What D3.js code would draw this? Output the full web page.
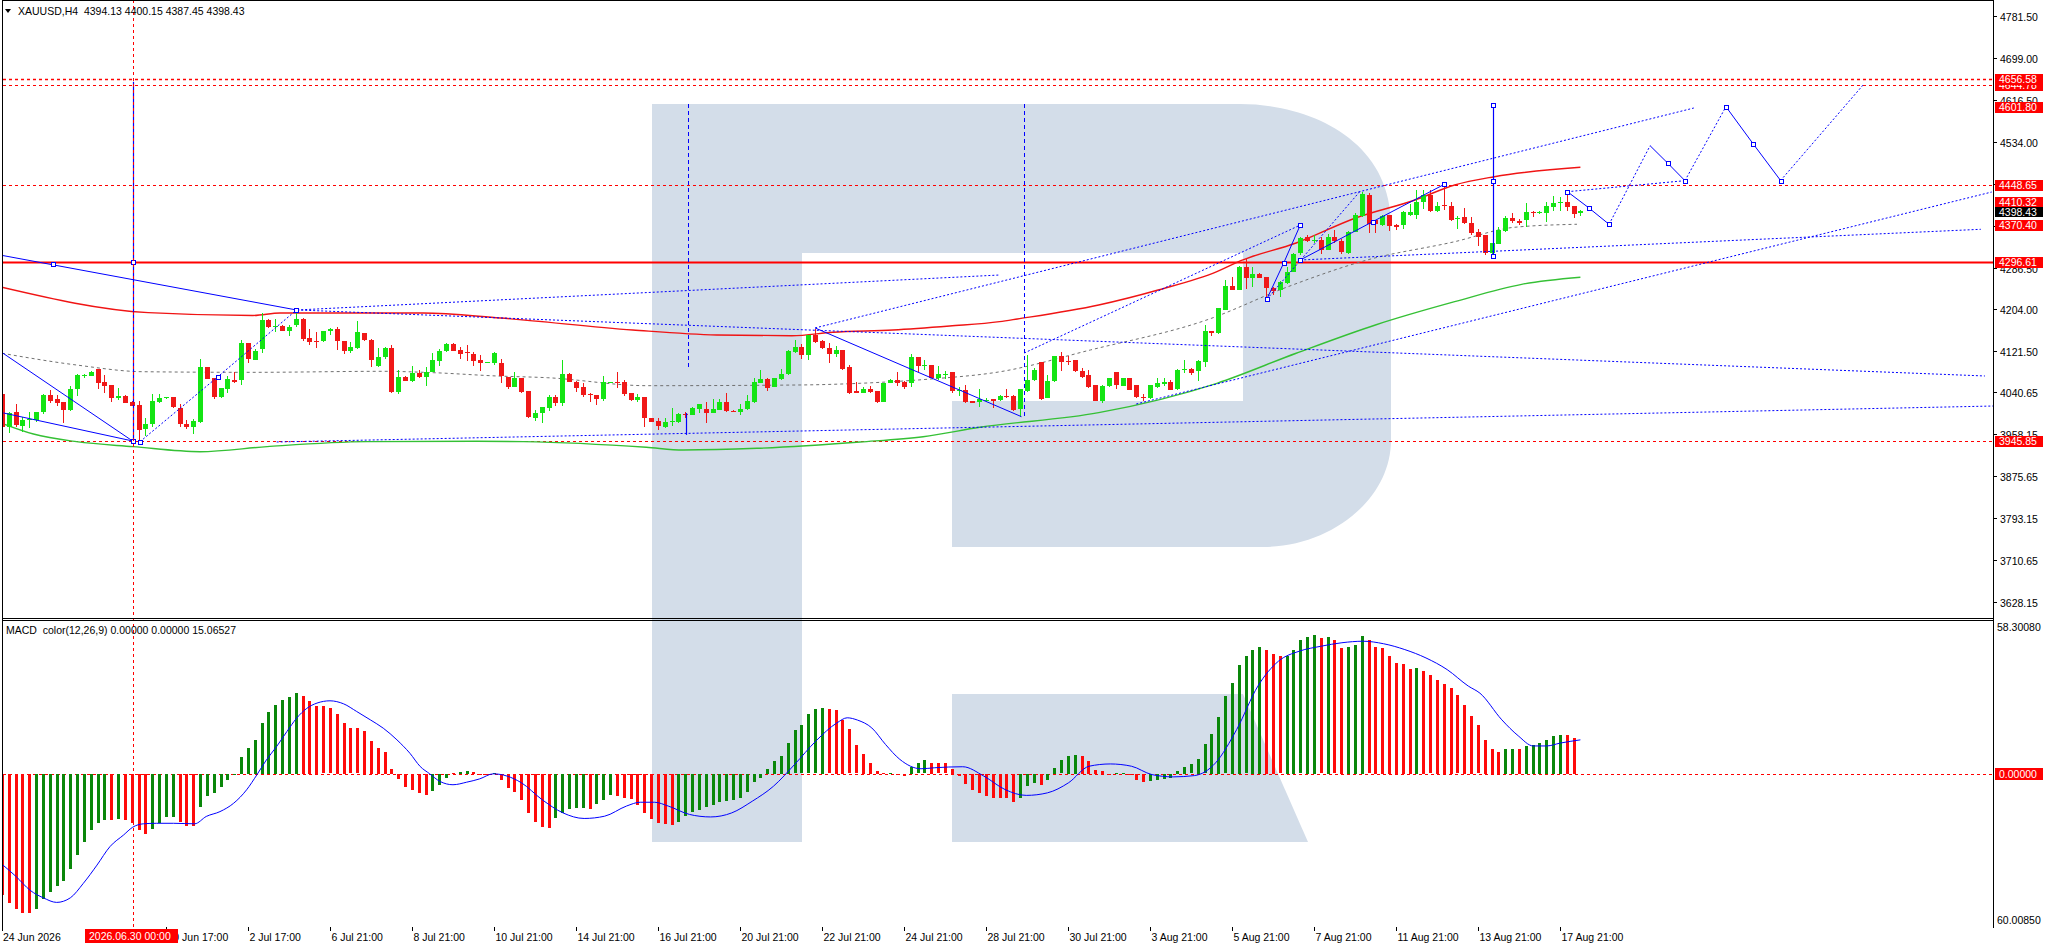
<!DOCTYPE html>
<html>
<head>
<meta charset="utf-8">
<script src="https://cdn.jsdelivr.net/npm/d3@7"></script>
<style>
html, body { margin: 0; padding: 0; background: #fff; }
svg { display: block; font-family: "Liberation Sans", Arial, sans-serif; font-size: 10.5px; }
</style>
</head>
<body>
<svg id="chart" width="2046" height="948"></svg>
<script>
var symbolHeader = "XAUUSD,H4  4394.13 4400.15 4387.45 4398.43";
var macdHeader = "MACD  color(12,26,9) 0.00000 0.00000 15.06527";

// H4 candles, one per bar: [open, high, low, close]
var ohlc = [
[4037,4040,3970,3972],[3972,4003,3960,3999.5],[4002,4018,3972,3976],[3975,3993,3963,3986],[3986,4003,3970,3988],
[3986,4003,3983,4002],[4001,4037,3999,4035],[4035,4045,4019,4024],[4027,4036,4013,4020],[4022,4022,3981,4006],
[4006,4053,4005,4047],[4046,4077,4034,4074],[4072,4076,4070,4074],[4073,4083,4072,4081],[4087,4087,4048,4060],
[4061,4074,4039,4054],[4055,4055,4022,4030],[4031,4049,4026,4034],[4034,4035,4019,4020],[4022,4023,4013,4015],
[4016,4024,3946,3967],[3968,3990,3954,3978],[3977,4037,3973,4023],[4022,4037,4020,4029],[4029,4032,4028,4031],
[4031,4032,4009,4011],[4009,4018,3973,3977],[3978,3986,3968,3973],[3973,3988,3958,3985],[3982,4106,3980,4090],
[4091,4091,4067,4068],[4069,4070,4027,4032],[4031,4049,4030,4049],[4047,4073,4040,4067],[4066,4081,4060,4062],
[4064,4144,4056,4137],[4137,4137,4099,4105],[4105,4127,4105,4123],[4125,4196,4119,4183],[4183,4185,4167,4170],
[4170,4185,4160,4171],[4171,4173,4161,4162],[4162,4173,4152,4169],[4175,4198,4169,4186],[4186,4188,4142,4146],
[4148,4165,4134,4141],[4141,4160,4128,4140],[4141,4162,4140,4161],[4161,4167,4154,4165],[4165,4169,4124,4141],
[4142,4142,4117,4123],[4123,4140,4118,4130],[4129,4181,4127,4160],[4157,4158,4142,4143],[4144,4145,4091,4104],
[4093,4129,4091,4111],[4110,4131,4107,4128],[4128,4134,4039,4041],[4041,4085,4037,4071],[4071,4072,4063,4064],
[4063,4093,4061,4078],[4078,4085,4070,4071],[4071,4091,4053,4081],[4081,4118,4081,4105],[4104,4127,4093,4123],
[4122,4138,4120,4136],[4136,4137,4122,4123],[4124,4131,4107,4117],[4121,4134,4103,4120],[4116,4121,4093,4103],
[4104,4114,4083,4099],[4099,4101,4098,4100],[4099,4121,4095,4118],[4098,4106,4060,4072],[4071,4071,4048,4051],
[4052,4081,4051,4069],[4070,4070,4039,4042],[4043,4043,3990,3991],[3991,4006,3985,4000],[4000,4011,3981,4011],
[4011,4035,4005,4032],[4032,4035,4013,4021],[4019,4105,4013,4077],[4077,4078,4061,4062],[4062,4064,4042,4051],
[4051,4060,4031,4036],[4037,4040,4021,4035],[4036,4036,4016,4028],[4028,4073,4024,4061],[4060,4062,4059,4061],
[4061,4081,4049,4060],[4061,4065,4034,4038],[4039,4039,4024,4026],[4026,4038,4022,4032],[4032,4032,3973,3991],
[3990,3991,3982,3983],[3985,3991,3967,3975],[3973,3991,3971,3982],[3982,4010,3975,3984],[3983,4001,3981,3998],
[3998,4002,3990,3997],[3997,4011,3996,4010],[4008,4017,4000,4017],[4008,4022,3981,4001],[4001,4028,4001,4008],
[4006,4028,4006,4022],[4022,4040,4003,4004],[4005,4006,4002,4003],[4002,4018,3997,4008],[4008,4035,4007,4024],
[4022,4069,4019,4061],[4060,4084,4059,4068],[4068,4070,4044,4051],[4052,4070,4051,4070],[4067,4087,4066,4077],
[4077,4125,4075,4123],[4121,4143,4118,4130],[4130,4136,4106,4114],[4114,4154,4105,4153],[4153,4166,4137,4140],
[4142,4143,4127,4128],[4128,4137,4099,4117],[4117,4132,4110,4124],[4124,4124,4085,4087],[4091,4095,4038,4040],
[4043,4061,4039,4040],[4040,4052,4039,4047],[4047,4053,4039,4042],[4043,4043,4019,4022],[4022,4060,4021,4059],
[4060,4067,4059,4066],[4066,4080,4053,4060],[4062,4064,4047,4052],[4058,4116,4052,4110],[4110,4110,4080,4093],
[4093,4104,4085,4095],[4095,4095,4069,4070],[4070,4093,4065,4077],[4076,4082,4068,4077],[4081,4081,4040,4044],
[4045,4052,4034,4046],[4045,4055,4019,4022],[4024,4024,4020,4021],[4021,4047,4011,4027],[4025,4030,4021,4026],
[4027,4027,4009,4024],[4026,4036,4024,4034],[4033,4047,4029,4032],[4034,4035,4005,4006],[4007,4047,3993,4047],
[4044,4114,4042,4065],[4065,4088,4064,4085],[4101,4101,4026,4029],[4031,4075,4029,4064],[4062,4113,4061,4112],
[4112,4121,4082,4101],[4103,4112,4095,4102],[4104,4105,4081,4082],[4083,4088,4070,4072],[4075,4085,4049,4052],
[4055,4056,4023,4024],[4024,4055,4019,4054],[4055,4070,4052,4070],[4080,4080,4047,4055],[4055,4070,4053,4070],
[4070,4070,4045,4047],[4055,4056,4030,4031],[4031,4038,4024,4030],[4029,4055,4027,4055],[4052,4070,4049,4060],
[4058,4070,4053,4061],[4062,4066,4045,4047],[4047,4086,4046,4085],[4085,4105,4078,4086],[4087,4088,4075,4080],
[4083,4104,4064,4103],[4101,4173,4091,4162],[4161,4161,4152,4157],[4157,4207,4156,4206],[4203,4262,4202,4250],
[4250,4268,4242,4242],[4243,4289,4242,4288],[4288,4305,4245,4267],[4267,4288,4249,4274],[4274,4276,4266,4267],
[4267,4267,4224,4246],[4246,4249,4232,4241],[4241,4259,4229,4257],[4256,4288,4254,4278],[4278,4315,4277,4314],
[4314,4346,4311,4344],[4347,4351,4337,4339],[4340,4351,4334,4341],[4341,4347,4313,4322],[4322,4352,4321,4347],
[4346,4360,4335,4339],[4339,4342,4314,4317],[4316,4359,4314,4357],[4357,4394,4356,4390],[4387,4436,4385,4431],
[4429,4434,4355,4372],[4380,4380,4355,4372],[4371,4390,4369,4388],[4390,4390,4359,4368],[4371,4373,4360,4367],
[4370,4398,4362,4396],[4390,4412,4388,4396],[4390,4439,4381,4416],[4416,4439,4401,4429],[4429,4440,4396,4397],
[4398,4416,4396,4408],[4410,4452,4400,4408],[4408,4416,4379,4381],[4382,4387,4362,4383],[4385,4403,4372,4374],
[4374,4385,4351,4355],[4356,4362,4329,4347],[4350,4351,4311,4315],[4315,4335,4313,4334],[4333,4366,4332,4360],
[4357,4387,4356,4383],[4383,4394,4375,4377],[4379,4381,4370,4375],[4381,4414,4366,4396],[4396,4398,4385,4394],
[4394,4397,4392,4395],[4395,4416,4377,4408],[4406,4427,4398,4414],[4413,4425,4397,4415],[4416,4436,4398,4407],
[4407,4407,4383,4392],[4394.13,4400.15,4387.45,4398.43]
];

// moving averages: [bar, price]
var maRed = [[0,4247.5],[21.4,4197.6],[36.7,4192],[40.7,4197],[61.6,4197],[72.9,4187.1],[92.3,4163.5],[104.6,4153.7],
  [115.6,4152.3],[121.6,4159],[130.4,4163.5],[138.7,4171.4],[146,4179.9],[148.6,4185.2],[160.5,4212.7],[169.2,4242.2],
  [177.8,4278.3],[181.3,4299.9],[189.4,4334.7],[198.1,4383.9],[206.8,4419.4],[212.6,4448.9],[218.4,4465.2],[231,4483.7]];
var maGreen = [[0,3979.9],[4.6,3958.8],[10.9,3943.7],[19.2,3933.9],[29,3924],[38.8,3933.9],[53.4,3943.7],[69.5,3944.5],
  [76.3,3943.7],[94.3,3932.6],[99.7,3927.3],[110.5,3930.7],[125.6,3943.1],[134.8,3953.5],[143.1,3972],[160.5,4000.8],
  [177.8,4058.6],[189.4,4117.7],[201,4173.4],[212.6,4219.2],[222.4,4253.4],[231,4267.2]];
var maGrey = [[0,4117.7],[10.9,4094.6],[20.6,4081.4],[36.7,4080.2],[55.8,4082.2],[63.1,4079.5],[72.4,4073],[79.8,4069.6],
  [94.4,4053.9],[116.8,4055.3],[125.6,4058.6],[135.4,4066.5],[146.1,4081.4],[159.3,4124.2],[176.6,4184.6],[188.2,4248.7],
  [199.8,4301.3],[212.6,4337.3],[221.3,4365.6],[230.5,4371.6]];

// horizontal levels
var levelsDotted = [4656.58, 4644.78, 4448.65, 3945.85];
var levelsSolid = [4296.61];
var levelsLabelOnly = [4601.80, 4410.32, 4370.40];
var bidPrice = 4398.43;

// drawn objects: [bar, price]
var blueSolid = [
  [[-0.3,4311.1],[43.1,4202.9]],
  [[0.1,4118.2],[19.1,3945.1]],
  [[0.2,4000.2],[19.1,3945.1]],
  [[119,4167.5],[149.2,3992.9]],
  [[185.1,4224],[187.6,4296],[190,4370]],
  [[190,4301.3],[200.6,4376.7],[211.1,4450.3]],
  [[229.1,4435.7],[232.2,4404.2],[235.2,4371.5]],
  [[241.2,4526.2],[243.8,4491.6],[246.3,4457.4]],
  [[252.3,4603],[256.3,4529.6],[260.3,4457.7]]
];
var blueDotted = [
  [[20.2,3943.7],[31.6,4071.6],[43.1,4202.9]],
  [[43.2,4202.9],[146.1,4271.8]],
  [[43.2,4202.9],[290.2,4073]],
  [[40.2,3943.1],[291.5,4013.9]],
  [[119,4167.5],[247.6,4600.4]],
  [[149.6,4118.2],[190,4370]],
  [[166,4017.9],[291.2,4435.1]],
  [[185.1,4224],[198.7,4435.7]],
  [[190,4301.3],[289.6,4361.7]],
  [[229.1,4435.7],[246.3,4457.4]],
  [[235.2,4371.5],[241.2,4526.2]],
  [[246.3,4457.4],[252.3,4603]],
  [[260.3,4457.7],[272.5,4647.7]]
];
var blueSquares = [[7.5,4292.8],[19.1,3945.1],[20.2,3943.7],[19.1,4296.6],[31.6,4071.6],[43.1,4202.9],
  [185.1,4224],[187.6,4296],[190,4370],[190,4301.3],[200.6,4376.7],[211.1,4450.3],
  [218.2,4606.3],[218.2,4457.4],[218.2,4309.2],
  [229.1,4435.7],[232.2,4404.2],[235.2,4371.5],[243.8,4491.6],[246.3,4457.4],[252.3,4603],[256.3,4529.6],[260.3,4457.7]];
// vertical objects: [bar, top price, bottom price]
var vSolid = [[19.1,4652,3945.1],[218.2,4606.3,4309.2],[100.1,4000,3957]];
var vDashed = [[100.4,4608.3,4088.7],[149.6,4608.3,3992.9]];

// MACD histogram and its colour state (g = rising, r = falling)
var macdHist = [
-47.7,-50.7,-53.4,-54.9,-54.9,-53.4,-49.4,-46.4,-44.2,-42.2,-37.3,-31.9,-26.7,-22.1,-19.5,-18.1,-18.1,-17.7,-18.1,-19.2,
-22.1,-23.7,-21.8,-19.2,-17.1,-16.8,-18.8,-20.4,-20.4,-12.9,-8.5,-7.4,-5.0,-2.4,-0.3,6.8,10.3,13.4,20.2,24.4,
27.2,29.3,30.4,31.9,30.8,28.9,26.8,26.6,25.8,23.7,20.0,17.9,17.9,17.0,13.1,10.3,8.7,2.0,-2.0,-5.0,
-6.3,-7.6,-8.3,-6.7,-4.3,-1.4,0.3,0.8,1.2,0.8,0.1,0.1,0.4,
-2.2,-5.5,-7.2,-10.1,-15.4,-19.1,-20.9,-21.3,-17.5,-15.4,-13.8,-13.6,-13.5,-13.8,-11.8,-10.1,-8.1,
-8.8,-9.5,-9.7,-12.1,-15.4,-17.7,-19.3,-19.6,-20.0,
-19.1,-16.7,-15.1,-14.3,-13.0,-12.1,-11.0,-10.8,-10.1,-9.5,-7.2,-3.3,-1.6,2.0,5.0,7.2,12.2,17.1,19.1,23.4,25.4,26.0,
25.4,25.1,21.4,17.5,11.2,8.0,4.3,1.1,0.4,0.5,0.1,-0.9,2.6,4.1,5.3,
4.3,4.1,4.1,2.1,-0.7,-3.8,-6.2,-7.5,-8.8,-9.6,-9.6,-9.6,-11.2,-9.5,-4.9,-3.5,-4.5,-2.5,2.2,5.3,7.2,7.6,
7.2,5.0,1.7,1.2,0.1,0.3,0.5,0.1,-2.2,-3.3,
-2.9,-2.2,-1.8,-1.4,1.1,2.6,3.7,6.0,11.6,15.9,22.6,30.5,36.0,43.0,46.3,48.9,50.2,
48.9,47.3,46.3,46.5,48.9,52.6,54.1,54.8,53.4,53.9,52.6,49.6,50.0,50.9,54.4,
52.6,50.2,49.6,46.5,43.6,43.4,41.3,41.9,
40.5,38.8,37.2,35.5,33.9,30.9,27.3,23.0,19.1,13.4,9.7,8.8,9.7,9.9,9.7,11.0,11.4,12.1,13.4,15.0,15.5,15.3,14.1,null
];
var macdState =
  "rrrrrgggggggggggrgrrrrggggrrrggggggggggggggg" + "rrrrrrrrrrrrrrrrrrrgggrggrrrg" +
  "rrrrrrrrgggggrgggrrrrrrrrr" + "gggggggggggggggggggggg" + "rrrrrrrrrgrrggg" +
  "rrrrrrrrrrrrrgggrgggggrrrrrggrrr" + "ggggggggggggggggg" + "rrrgggggrgrrggg" +
  "rrrrrrrg" + "rrrrrrrrrrrrggrggggggrr-";
// signal line: [bar, value]
var macdSignal = [[0.1,-35.9],[2.1,-40.6],[4.1,-45.9],[6.05,-48.9],[8,-50.7],[10,-48.9],[11.9,-43.2],[13.9,-36.0],
  [15.8,-28.7],[17.8,-24.1],[19.1,-21.1],[20.7,-19.7],[22.6,-19.5],[25.1,-19.5],[28.2,-19.7],[29.9,-16.8],[31.9,-14.9],
  [33.9,-11.6],[35.8,-6.3],[37.3,-0.4],[38.7,5.5],[40.2,10.8],[41.7,16.7],[43.1,21.9],[44.6,25.8],[46.1,27.9],[48,28.8],
  [50,27.6],[51.9,24.6],[53.9,21.3],[55.8,18.0],[57.8,13.4],[59.7,8.1],[61.2,2.9],[62.6,0],[64.1,-3.0],[66,-4.3],
  [68,-3.3],[69.9,-2.0],[71.9,0],[76,-3.5],[79,-10.1],[82.1,-15.4],[85.2,-17.6],[88.2,-16.7],[91.4,-12.7],[93.4,-11.2],
  [95.5,-11.2],[97.5,-12.7],[100.6,-16.0],[103.7,-17.0],[106.8,-15.4],[109.8,-10.8],[112.9,-4.9],[116,3.7],[119.1,12.9],
  [122.2,20.1],[123.7,22.1],[125.2,21.2],[127.3,18.1],[129.3,11.6],[131.4,5.7],[134.5,2.0],[136.5,2.4],[140.6,2.8],
  [143.7,-0.9],[146.8,-6.2],[149.9,-8.5],[153,-7.5],[156.1,-3.5],[159.1,3.0],[162.2,3.9],[165.3,3.0],[168.3,-0.3],
  [171.4,-1.2],[174.5,-0.7],[177.6,4.3],[180.7,17.5],[183.8,34.6],[186.8,44.4],[189.9,48.4],[193,50.3],[196.1,51.7],
  [199.2,52.3],[202.2,51.3],[205.3,49.0],[208.4,45.7],[211.5,41.1],[214.6,34.6],[216.3,31.8],[219.5,21.3],[221.9,15.0],
  [224.1,11.0],[226.1,11.0],[228,12.1],[231,13.4]];

// axes
var priceTicks = [4781.50,4699.00,4616.50,4534.00,4451.50,4369.00,4286.50,4204.00,4121.50,4040.65,3958.15,3875.65,3793.15,3710.65,3628.15];
var macdTop = 58.30080, macdBottom = -60.00850;
var timeLabels = [[0,"24 Jun 2026"],[24,"30 Jun 17:00"],[36,"2 Jul 17:00"],[48,"6 Jul 21:00"],
  [60,"8 Jul 21:00"],[72,"10 Jul 21:00"],[84,"14 Jul 21:00"],[96,"16 Jul 21:00"],[108,"20 Jul 21:00"],[120,"22 Jul 21:00"],
  [132,"24 Jul 21:00"],[144,"28 Jul 21:00"],[156,"30 Jul 21:00"],[168,"3 Aug 21:00"],[180,"5 Aug 21:00"],[192,"7 Aug 21:00"],
  [204,"11 Aug 21:00"],[216,"13 Aug 21:00"],[228,"17 Aug 21:00"]];
var crossBar = 19.1, crossLabel = "2026.06.30 00:00";

var axisX = 1993;
var x = d3.scaleLinear().domain([0, 231]).range([2, 1580.4]);
var yP = d3.scaleLinear().domain([3628.15, 4781.5]).range([602, 16]);
var yM = d3.scaleLinear().domain([macdBottom, macdTop]).range([926, 626]);
var BLUE = "#0000ff", RED = "#ff0000";

var svg = d3.select("#chart");
var defs = svg.append("defs");
defs.append("clipPath").attr("id", "clipMain").append("rect").attr("x", 3).attr("y", 1).attr("width", axisX - 3).attr("height", 617);
defs.append("clipPath").attr("id", "clipMacd").append("rect").attr("x", 3).attr("y", 621).attr("width", axisX - 3).attr("height", 306);

// watermark logo in the background
var wm = svg.append("g").attr("fill", "#d3dde9");
wm.append("rect").attr("x", 652).attr("y", 104).attr("width", 150).attr("height", 738);
wm.append("path").attr("d", "M802,104 L1240,104 C1310,104 1391,140 1391,225 L1391,440 C1391,500 1330,547 1263,547 L952,547 L952,401 L1243,401 L1243,253 L802,253 Z");
wm.append("path").attr("d", "M952,694 L1243,694 L1308,842 L952,842 Z");

var gm = svg.append("g").attr("clip-path", "url(#clipMain)");
function py(p){ return Math.round(yP(p)) + 0.5; }
function bx(i){ return Math.round(x(i)); }

// red horizontal levels
gm.selectAll("line.lvd").data(levelsDotted).enter().append("line")
  .attr("x1", 3).attr("x2", axisX).attr("y1", py).attr("y2", py)
  .attr("stroke", RED).attr("stroke-width", function(d, i){ return i === 0 ? 1.6 : 1; })
  .attr("stroke-dasharray", "3,3");
gm.selectAll("line.lvs").data(levelsSolid).enter().append("line")
  .attr("x1", 3).attr("x2", axisX).attr("y1", py).attr("y2", py)
  .attr("stroke", RED).attr("stroke-width", 2);

// indicator lines
var line = d3.line().x(function(d){ return x(d[0]); }).y(function(d){ return yP(d[1]); }).curve(d3.curveMonotoneX);
gm.append("path").attr("d", line(maGreen)).attr("fill", "none").attr("stroke", "#35c035").attr("stroke-width", 1.4);
gm.append("path").attr("d", line(maRed)).attr("fill", "none").attr("stroke", "#f01414").attr("stroke-width", 1.4);
gm.append("path").attr("d", line(maGrey)).attr("fill", "none").attr("stroke", "#707070").attr("stroke-width", 1).attr("stroke-dasharray", "3,3");

// candles
var cg = gm.append("g").attr("shape-rendering", "crispEdges");
var candle = cg.selectAll("g.c").data(ohlc).enter().append("g").attr("class", "c");
candle.append("line")
  .attr("x1", function(d, i){ return bx(i) + 0.5; }).attr("x2", function(d, i){ return bx(i) + 0.5; })
  .attr("y1", function(d){ return yP(d[1]); }).attr("y2", function(d){ return yP(d[2]); })
  .attr("stroke", function(d){ return d[3] >= d[0] ? "#14e414" : "#f01818"; });
candle.append("rect")
  .attr("x", function(d, i){ return bx(i) - 2; }).attr("width", 5)
  .attr("y", function(d){ return Math.round(yP(Math.max(d[0], d[3]))); })
  .attr("height", function(d){ return Math.max(1, Math.round(Math.abs(yP(d[0]) - yP(d[3])))); })
  .attr("fill", function(d){ return d[3] >= d[0] ? "#14e414" : "#f01818"; });

// red crosshair line (whole height)
svg.append("line").attr("x1", bx(crossBar) + 0.5).attr("x2", bx(crossBar) + 0.5).attr("y1", 0).attr("y2", 929)
  .attr("stroke", RED).attr("stroke-dasharray", "3,3");

// blue drawn objects
var lineL = d3.line().x(function(d){ return x(d[0]); }).y(function(d){ return yP(d[1]); });
gm.selectAll("path.bs").data(blueSolid).enter().append("path").attr("d", lineL)
  .attr("fill", "none").attr("stroke", BLUE).attr("stroke-width", 1);
gm.selectAll("path.bd").data(blueDotted).enter().append("path").attr("d", lineL)
  .attr("fill", "none").attr("stroke", BLUE).attr("stroke-width", 1).attr("stroke-dasharray", "2,2");
gm.selectAll("line.vs").data(vSolid).enter().append("line")
  .attr("x1", function(d){ return bx(d[0]) + 0.5; }).attr("x2", function(d){ return bx(d[0]) + 0.5; })
  .attr("y1", function(d){ return yP(d[1]); }).attr("y2", function(d){ return yP(d[2]); })
  .attr("stroke", BLUE).attr("stroke-width", 1.2);
gm.selectAll("line.vd").data(vDashed).enter().append("line")
  .attr("x1", function(d){ return bx(d[0]) + 0.5; }).attr("x2", function(d){ return bx(d[0]) + 0.5; })
  .attr("y1", function(d){ return yP(d[1]); }).attr("y2", function(d){ return yP(d[2]); })
  .attr("stroke", BLUE).attr("stroke-width", 1).attr("stroke-dasharray", "4,3");
gm.selectAll("rect.sq").data(blueSquares).enter().append("rect")
  .attr("x", function(d){ return Math.round(x(d[0])) - 2; }).attr("y", function(d){ return Math.round(yP(d[1])) - 2; })
  .attr("width", 4).attr("height", 4).attr("fill", "#fff").attr("stroke", BLUE).attr("stroke-width", 1)
  .attr("shape-rendering", "crispEdges");

// MACD window
var gd = svg.append("g").attr("clip-path", "url(#clipMacd)");
gd.append("line").attr("x1", 3).attr("x2", axisX).attr("y1", Math.round(yM(0)) + 0.5).attr("y2", Math.round(yM(0)) + 0.5)
  .attr("stroke", RED).attr("stroke-dasharray", "3,3");
gd.append("g").attr("shape-rendering", "crispEdges").selectAll("rect")
  .data(macdHist.map(function(v, i){ return {i: i, v: v, s: macdState[i]}; }).filter(function(d){ return d.v !== null; }))
  .enter().append("rect")
  .attr("x", function(d){ return bx(d.i) - 1; }).attr("width", 3)
  .attr("y", function(d){ return Math.round(Math.min(yM(d.v), yM(0))); })
  .attr("height", function(d){ return Math.max(1, Math.round(Math.abs(yM(d.v) - yM(0)))); })
  .attr("fill", function(d){ return d.s === "g" ? "#0a870a" : "#ff0a0a"; });
gd.append("path").attr("d", d3.line().x(function(d){ return x(d[0]); }).y(function(d){ return yM(d[1]); }).curve(d3.curveMonotoneX)(macdSignal))
  .attr("fill", "none").attr("stroke", BLUE).attr("stroke-width", 1);

// frames
var fr = svg.append("g").attr("stroke", "#000").attr("stroke-width", 1).attr("shape-rendering", "crispEdges");
fr.append("line").attr("x1", 2.5).attr("x2", 2.5).attr("y1", 0).attr("y2", 928);
fr.append("line").attr("x1", 2).attr("x2", axisX).attr("y1", 0.5).attr("y2", 0.5);
fr.append("line").attr("x1", 2).attr("x2", axisX).attr("y1", 618.5).attr("y2", 618.5);
fr.append("line").attr("x1", 2).attr("x2", axisX).attr("y1", 620.5).attr("y2", 620.5);
fr.append("line").attr("x1", axisX + 0.5).attr("x2", axisX + 0.5).attr("y1", 0).attr("y2", 928);

// headers
svg.append("path").attr("d", "M5,9 L11,9 L8,13 Z").attr("fill", "#000");
svg.append("text").attr("x", 18).attr("y", 15).attr("fill", "#000").style("white-space", "pre").text(symbolHeader);
svg.append("text").attr("x", 6).attr("y", 634).attr("fill", "#000").style("white-space", "pre").text(macdHeader);

// price axis
var pa = svg.append("g");
priceTicks.forEach(function(p){
  var y = Math.round(yP(p)) + 0.5;
  pa.append("line").attr("x1", axisX).attr("x2", axisX + 4).attr("y1", y).attr("y2", y).attr("stroke", "#000");
  pa.append("text").attr("x", 2000).attr("y", y + 4).attr("fill", "#000").text(p.toFixed(2));
});
var bidY = Math.round(yP(bidPrice)) + 1;
levelsDotted.concat(levelsSolid, levelsLabelOnly).sort(d3.ascending).forEach(function(p){
  var y = Math.round(yP(p));
  // keep labels clear of the bid label, as the terminal does
  if (Math.abs(y - bidY) < 10) y = y < bidY ? bidY - 10 : bidY + 10;
  pa.append("rect").attr("x", 1995).attr("y", y - 5).attr("width", 48).attr("height", 11).attr("fill", RED);
  pa.append("text").attr("x", 1999).attr("y", y + 4).attr("fill", "#fff").text(p.toFixed(2));
});
pa.append("rect").attr("x", 1995).attr("y", bidY - 5).attr("width", 48).attr("height", 10).attr("fill", "#000");
pa.append("text").attr("x", 1999).attr("y", bidY + 4).attr("fill", "#fff").text(bidPrice.toFixed(2));

// MACD axis
pa.append("text").attr("x", 1997).attr("y", 631).attr("fill", "#000").text(macdTop.toFixed(5));
pa.append("text").attr("x", 1997).attr("y", 924).attr("fill", "#000").text(Math.abs(macdBottom).toFixed(5));
pa.append("rect").attr("x", 1995).attr("y", Math.round(yM(0)) - 6).attr("width", 48).attr("height", 12).attr("fill", RED);
pa.append("text").attr("x", 1999).attr("y", Math.round(yM(0)) + 4).attr("fill", "#fff").text((0).toFixed(5));

// time axis
var ta = svg.append("g");
timeLabels.forEach(function(t){
  var xx = bx(t[0]) + 0.5;
  ta.append("line").attr("x1", xx).attr("x2", xx).attr("y1", 927).attr("y2", 931).attr("stroke", "#000");
  ta.append("text").attr("x", t[0] === 0 ? 3 : xx + 1).attr("y", 941).attr("fill", "#000").text(t[1]);
});
ta.append("rect").attr("x", 85).attr("y", 929).attr("width", 93).attr("height", 14).attr("fill", RED);
ta.append("text").attr("x", 89).attr("y", 940).attr("fill", "#fff").text(crossLabel);
</script>
</body>
</html>
